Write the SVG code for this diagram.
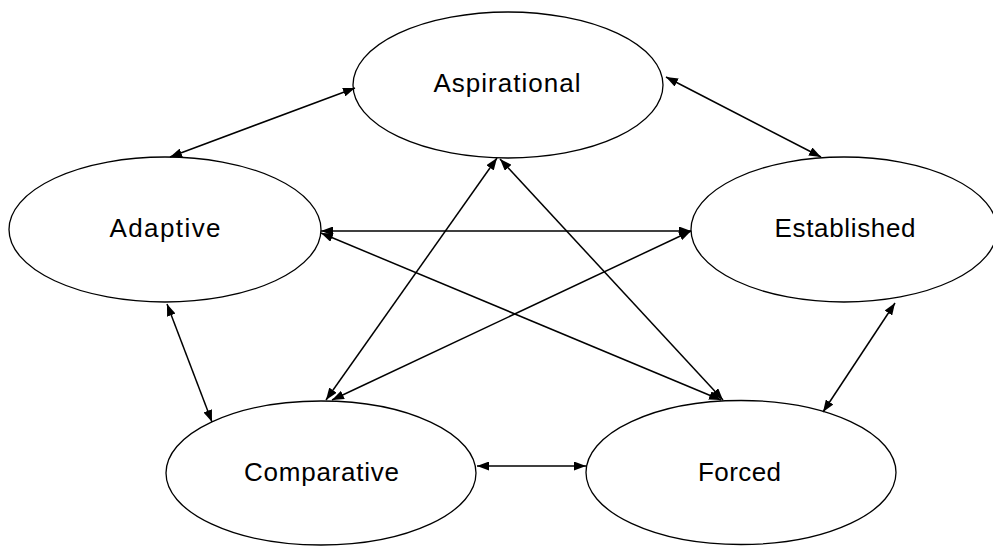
<svg xmlns="http://www.w3.org/2000/svg" width="993" height="546" viewBox="0 0 993 546">
<style>
.node ellipse{fill:#fff;stroke:#000;stroke-width:1.3}
.node text{font-family:"Liberation Sans",Arial,sans-serif;font-size:26px;fill:#000;text-anchor:middle}
#connectors line{stroke:#000;stroke-width:1.5;marker-start:url(#ah);marker-end:url(#ah)}
</style>
<defs>
<marker id="ah" markerUnits="userSpaceOnUse" markerWidth="13" markerHeight="9" refX="12" refY="4.5" orient="auto-start-reverse">
<path d="M0,0 L12,4.5 L0,9 z" fill="#000"/>
</marker>
</defs>
<rect width="993" height="546" fill="#fff"/>
<g id="n-aspirational" class="node"><ellipse cx="508" cy="85" rx="155" ry="73"/><text x="507" y="92" textLength="147" lengthAdjust="spacing">Aspirational</text></g>
<g id="n-adaptive" class="node"><ellipse cx="165" cy="229.5" rx="156" ry="72.5"/><text x="165" y="237" textLength="111" lengthAdjust="spacing">Adaptive</text></g>
<g id="n-established" class="node"><ellipse cx="844" cy="229.5" rx="153" ry="72.5"/><text x="845" y="237" textLength="141" lengthAdjust="spacing">Established</text></g>
<g id="n-comparative" class="node"><ellipse cx="321" cy="473" rx="155" ry="72"/><text x="321.5" y="481" textLength="155" lengthAdjust="spacing">Comparative</text></g>
<g id="n-forced" class="node"><ellipse cx="741" cy="472.5" rx="155" ry="72"/><text x="739.5" y="481" textLength="83" lengthAdjust="spacing">Forced</text></g>
<g id="connectors">
<line x1="170" y1="157" x2="355" y2="88"/>
<line x1="666" y1="77" x2="821" y2="157"/>
<line x1="321" y1="231" x2="691" y2="231"/>
<line x1="321" y1="233" x2="721" y2="400"/>
<line x1="500" y1="159" x2="723" y2="400"/>
<line x1="497" y1="158" x2="326" y2="400"/>
<line x1="691" y1="231" x2="332" y2="400"/>
<line x1="167" y1="304" x2="212" y2="422"/>
<line x1="477" y1="466" x2="586" y2="466"/>
<line x1="895" y1="303" x2="823" y2="412"/>
</g>
</svg>
